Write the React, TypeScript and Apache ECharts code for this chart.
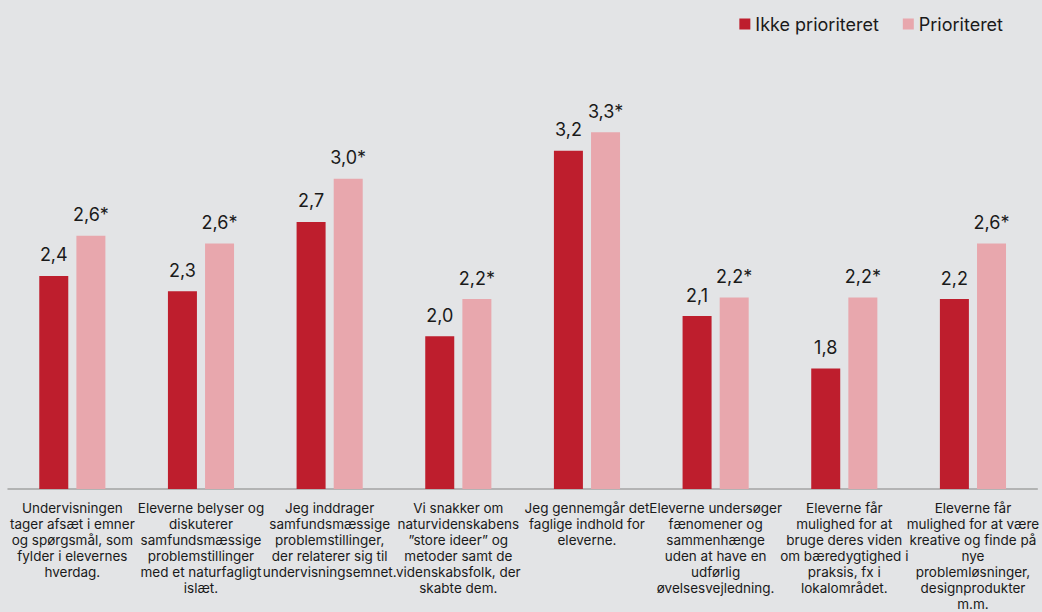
import React, { useEffect, useRef } from "react";
import * as echarts from "echarts";

const categories = [
  "Undervisningen\ntager afsæt i emner\nog spørgsmål, som\nfylder i elevernes\nhverdag.",
  "Eleverne belyser og\ndiskuterer\nsamfundsmæssige\nproblemstillinger\nmed et naturfagligt\nislæt.",
  "Jeg inddrager\nsamfundsmæssige\nproblemstillinger,\nder relaterer sig til\nundervisningsemnet.",
  "Vi snakker om\nnaturvidenskabens\n”store ideer” og\nmetoder samt de\nvidenskabsfolk, der\nskabte dem.",
  "Jeg gennemgår det\nfaglige indhold for\neleverne.",
  "Eleverne undersøger\nfænomener og\nsammenhænge\nuden at have en\nudførlig\nøvelsesvejledning.",
  "Eleverne får\nmulighed for at\nbruge deres viden\nom bæredygtighed i\npraksis, fx i\nlokalområdet.",
  "Eleverne får\nmulighed for at være\nkreative og finde på\nnye\nproblemløsninger,\ndesignprodukter\nm.m.",
];

const seriesNames = ["Ikke prioriteret", "Prioriteret"];
const ikkePrioriteret = [2.38, 2.28, 2.73, 1.99, 3.19, 2.12, 1.78, 2.23];
const prioriteret = [2.64, 2.59, 3.01, 2.23, 3.31, 2.24, 2.24, 2.59];
const suffixes = ["", "*"];

const colors = ["#be1e2d", "#e8a7ad"];
const FONT = "Inter, 'Noto Sans', sans-serif";

export default function App() {
  const ref = useRef<HTMLDivElement>(null);
  useEffect(() => {
    document.body.style.margin = "0";
    const chart = echarts.init(ref.current!, null, { renderer: "svg" });
    const fmt = (suffix: string) => (p: any) =>
      (Math.round(p.value * 10) / 10).toFixed(1).replace(".", ",") + suffix;
    const mk = (name: string, data: number[], i: number) => ({
      name,
      type: "bar",
      data,
      barWidth: 29,
      barGap: "28%",
      itemStyle: { color: colors[i] },
      label: {
        show: true,
        position: "top",
        distance: 12,
        fontFamily: FONT,
        fontSize: 18,
        color: "#1a1a1a",
        formatter: fmt(suffixes[i]),
      },
    });
    chart.setOption({
      animation: false,
      backgroundColor: "#e3e4e6",
      textStyle: { fontFamily: FONT },
      legend: {
        top: 10,
        right: 34,
        itemWidth: 11,
        itemHeight: 11,
        itemGap: 24,
        icon: "rect",
        textStyle: { fontFamily: FONT, fontSize: 18, color: "#1a1a1a" },
        data: seriesNames,
      },
      grid: { left: 8, right: 1, top: 103, height: 390, containLabel: false },
      xAxis: {
        type: "category",
        data: categories,
        axisLine: { lineStyle: { color: "#a3a3a3", width: 1.5 } },
        axisTick: { show: false },
        axisLabel: {
          interval: 0,
          margin: 11,
          fontFamily: FONT,
          fontSize: 13.5,
          lineHeight: 16,
          color: "#1a1a1a",
          align: "center",
        },
      },
      yAxis: {
        type: "value",
        min: 1,
        max: 3.5,
        show: false,
        splitLine: { show: false },
      },
      series: [
        mk(seriesNames[0], ikkePrioriteret, 0),
        mk(seriesNames[1], prioriteret, 1),
      ],
    });
    return () => chart.dispose();
  }, []);
  return <div ref={ref} style={{ width: 1042, height: 612 }} />;
}
